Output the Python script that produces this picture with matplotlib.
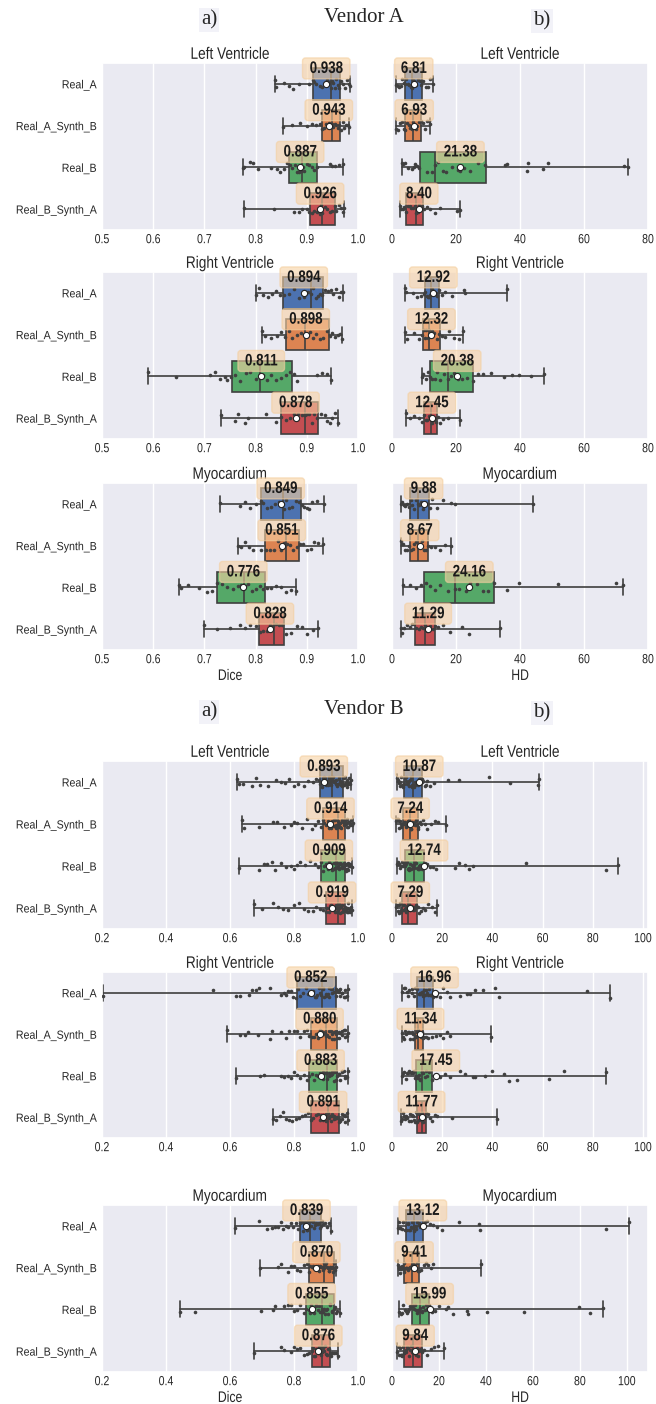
import numpy as np
import pandas as pd
import matplotlib.pyplot as plt
import seaborn as sns
from matplotlib.patheffects import AbstractPathEffect
from matplotlib.transforms import Affine2D

sns.set_theme(style='darkgrid')
plt.rcParams['font.family'] = ['Liberation Sans', 'DejaVu Sans']
np.random.seed(7)

groups = ['Real_A', 'Real_A_Synth_B', 'Real_B', 'Real_B_Synth_A']
palette = sns.color_palette('deep')[:4]

# box rows: (low whisker, q1, median, q3, high whisker)

# ---------------- Vendor A ----------------
a_lv_dice_mean = [0.938, 0.943, 0.887, 0.926]
a_lv_dice_box = [(0.838, 0.913, 0.947, 0.965, 0.984), (0.853, 0.929, 0.949, 0.965, 0.982),
                 (0.775, 0.866, 0.890, 0.920, 0.971), (0.778, 0.906, 0.929, 0.956, 0.972)]
a_lv_dice_pts = [
    [0.838, 0.839, 0.855, 0.866, 0.874, 0.885, 0.905, 0.912, 0.915, 0.918, 0.925, 0.93, 0.936, 0.94,
     0.944, 0.947, 0.95, 0.952, 0.955, 0.958, 0.96, 0.963, 0.966, 0.97, 0.975, 0.978, 0.982, 0.984],
    [0.853, 0.872, 0.886, 0.9, 0.91, 0.918, 0.925, 0.93, 0.933, 0.937, 0.94, 0.944, 0.947, 0.95,
     0.952, 0.955, 0.958, 0.96, 0.963, 0.966, 0.97, 0.973, 0.977, 0.98, 0.982],
    [0.775, 0.778, 0.79, 0.794, 0.805, 0.83, 0.842, 0.848, 0.855, 0.862, 0.868, 0.872, 0.876, 0.88,
     0.884, 0.888, 0.892, 0.895, 0.9, 0.905, 0.91, 0.915, 0.92, 0.945, 0.95, 0.955, 0.962, 0.971],
    [0.778, 0.835, 0.875, 0.885, 0.89, 0.9, 0.905, 0.91, 0.915, 0.92, 0.925, 0.928, 0.93, 0.935,
     0.94, 0.945, 0.95, 0.955, 0.958, 0.962, 0.966, 0.97, 0.972],
]
a_lv_hd_mean = [6.81, 6.93, 21.38, 8.40]
a_lv_hd_box = [(1.4, 4.0, 6.4, 9.5, 12.8), (1.4, 4.2, 6.6, 9.2, 12.0),
               (3.0, 8.7, 13.4, 29.3, 73.9), (2.4, 4.3, 7.6, 9.7, 21.2)]
a_lv_hd_pts = [
    [1.4, 1.8, 2.3, 2.8, 3.2, 3.6, 4.0, 4.4, 4.9, 5.3, 5.8, 6.2, 6.6, 7.0, 7.5, 8.0, 8.6, 9.2, 9.8,
     10.5, 11.3, 12.0, 12.8],
    [1.4, 1.9, 2.5, 3.0, 3.6, 4.2, 4.7, 5.2, 5.7, 6.2, 6.6, 7.0, 7.4, 7.9, 8.4, 9.0, 9.6, 10.3, 11.0,
     11.6, 12.0],
    [3.0, 3.5, 4.2, 5.0, 6.2, 6.8, 7.3, 7.7, 8.5, 10.8, 12.5, 13.4, 14.5, 15.8, 17.0, 18.6, 20.5,
     21.2, 22.5, 24.3, 27.0, 29.0, 35.3, 35.8, 42.3, 42.5, 47.1, 48.7, 72.4, 73.9],
    [2.4, 2.8, 3.3, 3.8, 4.3, 4.9, 5.5, 6.0, 6.6, 7.2, 7.6, 8.0, 8.5, 9.0, 9.5, 10.0, 11.0, 12.0,
     13.5, 15.0, 20.2, 21.2],
]

a_rv_dice_mean = [0.894, 0.898, 0.811, 0.878]
a_rv_dice_box = [(0.800, 0.853, 0.908, 0.931, 0.970), (0.813, 0.860, 0.896, 0.944, 0.968),
                 (0.590, 0.753, 0.808, 0.872, 0.948), (0.733, 0.849, 0.896, 0.922, 0.960)]
a_rv_dice_pts = [
    [0.8, 0.806, 0.815, 0.825, 0.832, 0.84, 0.848, 0.856, 0.865, 0.875, 0.885, 0.895, 0.902, 0.908,
     0.912, 0.918, 0.922, 0.926, 0.93, 0.935, 0.942, 0.948, 0.952, 0.958, 0.962, 0.966, 0.97],
    [0.813, 0.818, 0.83, 0.842, 0.85, 0.858, 0.865, 0.872, 0.88, 0.888, 0.895, 0.9, 0.906, 0.912,
     0.918, 0.925, 0.932, 0.94, 0.946, 0.95, 0.955, 0.96, 0.964, 0.968],
    [0.59, 0.645, 0.71, 0.72, 0.73, 0.74, 0.745, 0.752, 0.76, 0.77, 0.782, 0.79, 0.8, 0.808, 0.815,
     0.822, 0.83, 0.84, 0.85, 0.86, 0.868, 0.875, 0.88, 0.92, 0.93, 0.94, 0.948],
    [0.733, 0.76, 0.765, 0.78, 0.785, 0.82, 0.84, 0.85, 0.86, 0.868, 0.875, 0.882, 0.89, 0.896, 0.9,
     0.905, 0.91, 0.915, 0.92, 0.928, 0.935, 0.94, 0.945, 0.95, 0.955, 0.96],
]
a_rv_hd_mean = [12.92, 12.32, 20.38, 12.45]
a_rv_hd_box = [(4.0, 10.2, 12.1, 14.8, 35.9), (4.0, 9.8, 11.5, 15.1, 22.3),
               (9.3, 11.9, 17.4, 25.2, 47.4), (4.3, 9.9, 12.1, 14.1, 21.3)]
a_rv_hd_pts = [
    [4.0, 4.5, 6.5, 7.8, 9.0, 10.0, 10.4, 10.8, 11.2, 11.6, 12.0, 12.4, 12.8, 13.2, 13.7, 14.2, 14.8,
     15.5, 16.5, 18.7, 22.4, 22.8, 35.9],
    [4.0, 4.6, 7.0, 8.5, 9.5, 9.9, 10.3, 10.7, 11.1, 11.5, 12.0, 12.6, 13.2, 14.0, 14.8, 15.5, 16.5,
     17.8, 19.5, 21.0, 22.3],
    [9.3, 9.8, 10.5, 11.2, 12.0, 12.6, 13.3, 14.0, 15.0, 16.2, 17.4, 18.5, 19.5, 20.6, 22.0, 23.5,
     25.2, 27.0, 28.5, 31.0, 35.0, 37.5, 39.6, 43.5, 47.4],
    [4.3, 5.5, 7.0, 8.5, 9.5, 10.0, 10.5, 11.0, 11.5, 12.0, 12.4, 12.8, 13.3, 13.8, 14.3, 15.0, 16.0,
     17.5, 21.3],
]

a_myo_dice_mean = [0.849, 0.851, 0.776, 0.828]
a_myo_dice_box = [(0.731, 0.810, 0.854, 0.888, 0.933), (0.766, 0.819, 0.859, 0.885, 0.931),
                  (0.651, 0.725, 0.778, 0.819, 0.878), (0.700, 0.806, 0.835, 0.855, 0.922)]
a_myo_dice_pts = [
    [0.731, 0.77, 0.78, 0.79, 0.8, 0.81, 0.815, 0.822, 0.83, 0.838, 0.845, 0.85, 0.855, 0.86, 0.866,
     0.872, 0.878, 0.884, 0.89, 0.895, 0.9, 0.905, 0.91, 0.92, 0.933],
    [0.766, 0.772, 0.78, 0.788, 0.795, 0.81, 0.82, 0.828, 0.836, 0.844, 0.85, 0.856, 0.862, 0.868,
     0.874, 0.88, 0.886, 0.892, 0.9, 0.908, 0.915, 0.922, 0.931],
    [0.651, 0.655, 0.667, 0.69, 0.705, 0.715, 0.725, 0.735, 0.745, 0.755, 0.765, 0.772, 0.78, 0.786,
     0.792, 0.8, 0.808, 0.815, 0.822, 0.83, 0.84, 0.85, 0.86, 0.87, 0.878],
    [0.7, 0.725, 0.75, 0.77, 0.78, 0.79, 0.8, 0.808, 0.815, 0.822, 0.828, 0.834, 0.84, 0.846, 0.852,
     0.86, 0.87, 0.88, 0.89, 0.9, 0.912, 0.922],
]
a_myo_hd_mean = [9.88, 8.67, 24.16, 11.29]
a_myo_hd_box = [(2.7, 5.6, 8.0, 11.7, 44.1), (2.7, 5.6, 8.2, 11.2, 18.3),
                (3.4, 9.9, 19.6, 32.0, 72.2), (2.7, 7.3, 10.2, 13.4, 33.7)]
a_myo_hd_pts = [
    [2.7, 3.1, 3.6, 4.2, 4.8, 5.4, 5.9, 6.4, 6.9, 7.4, 8.0, 8.5, 9.0, 9.6, 10.2, 11.0, 11.8, 12.5,
     14.0, 16.0, 18.5, 19.6, 44.1],
    [2.7, 3.0, 3.5, 4.1, 4.7, 5.3, 5.9, 6.5, 7.0, 7.6, 8.2, 8.8, 9.4, 10.0, 10.7, 11.4, 12.3, 13.5,
     15.0, 16.5, 18.3],
    [3.4, 5.5, 7.5, 9.0, 10.5, 12.0, 13.5, 15.0, 17.5, 19.6, 21.0, 23.0, 24.5, 26.5, 28.5, 30.0,
     32.0, 36.0, 39.6, 52.0, 70.0, 72.2],
    [2.7, 3.2, 3.8, 4.6, 5.5, 6.3, 7.0, 7.6, 8.3, 9.0, 9.7, 10.2, 10.8, 11.4, 12.0, 12.7, 13.4,
     14.5, 16.0, 18.0, 22.0, 24.0, 33.7],
]

# ---------------- Vendor B ----------------
b_lv_dice_mean = [0.893, 0.914, 0.909, 0.919]
b_lv_dice_box = [(0.621, 0.880, 0.919, 0.952, 0.978), (0.638, 0.890, 0.936, 0.959, 0.984),
                 (0.627, 0.884, 0.932, 0.959, 0.980), (0.675, 0.899, 0.936, 0.959, 0.982)]
b_lv_dice_pts = [
    [0.621, 0.628, 0.64, 0.668, 0.682, 0.695, 0.72, 0.745, 0.76, 0.772, 0.785, 0.8, 0.812, 0.83,
     0.845, 0.86, 0.87, 0.878, 0.882, 0.886, 0.89, 0.894, 0.898, 0.902, 0.905, 0.908, 0.911, 0.914,
     0.917, 0.92, 0.922, 0.925, 0.928, 0.931, 0.934, 0.937, 0.94, 0.943, 0.946, 0.949, 0.952, 0.955,
     0.958, 0.961, 0.964, 0.967, 0.97, 0.973, 0.976, 0.978, 0.9, 0.91, 0.92, 0.93, 0.94, 0.95,
     0.96, 0.97, 0.935, 0.945, 0.955, 0.965, 0.925, 0.915, 0.905, 0.895],
    [0.638, 0.645, 0.69, 0.735, 0.748, 0.77, 0.79, 0.8, 0.81, 0.825, 0.84, 0.855, 0.865, 0.875,
     0.885, 0.89, 0.895, 0.9, 0.905, 0.91, 0.915, 0.92, 0.924, 0.928, 0.932, 0.936, 0.94, 0.943,
     0.946, 0.949, 0.952, 0.955, 0.958, 0.961, 0.964, 0.967, 0.97, 0.973, 0.976, 0.979, 0.982, 0.984,
     0.93, 0.94, 0.95, 0.96, 0.97, 0.975, 0.965, 0.955, 0.945, 0.935, 0.925, 0.915],
    [0.627, 0.69, 0.705, 0.715, 0.73, 0.74, 0.76, 0.775, 0.79, 0.8, 0.81, 0.82, 0.835, 0.85, 0.865,
     0.875, 0.884, 0.89, 0.895, 0.9, 0.905, 0.91, 0.915, 0.92, 0.924, 0.928, 0.932, 0.936, 0.94,
     0.943, 0.946, 0.949, 0.952, 0.955, 0.958, 0.961, 0.964, 0.967, 0.97, 0.973, 0.976, 0.98,
     0.93, 0.94, 0.95, 0.96, 0.97, 0.975, 0.965, 0.955, 0.945, 0.935, 0.925, 0.915],
    [0.675, 0.7, 0.735, 0.75, 0.765, 0.78, 0.8, 0.815, 0.83, 0.845, 0.86, 0.87, 0.88, 0.89, 0.899,
     0.904, 0.908, 0.912, 0.916, 0.92, 0.924, 0.928, 0.932, 0.936, 0.939, 0.942, 0.945, 0.948, 0.951,
     0.954, 0.957, 0.96, 0.963, 0.966, 0.969, 0.972, 0.975, 0.978, 0.982, 0.93, 0.94, 0.95, 0.96,
     0.97, 0.975, 0.965, 0.955, 0.945, 0.935, 0.925, 0.915],
]
b_lv_hd_mean = [10.87, 7.24, 12.74, 7.29]
b_lv_hd_box = [(1.8, 4.6, 8.3, 11.9, 58.4), (1.6, 4.2, 7.0, 10.3, 21.4),
               (1.8, 5.1, 8.6, 12.7, 89.9), (1.6, 4.1, 6.2, 10.0, 18.1)]
b_lv_hd_pts = [
    [1.8, 2.2, 2.6, 3.0, 3.4, 3.8, 4.2, 4.6, 5.0, 5.4, 5.8, 6.2, 6.6, 7.0, 7.4, 7.8, 8.3, 8.8, 9.3,
     9.8, 10.3, 10.8, 11.3, 11.9, 12.5, 13.2, 14.0, 15.0, 16.8, 22.2, 26.6, 38.8, 47.1, 58.0, 58.4,
     3.2, 4.4, 5.6, 6.8, 8.0, 9.0, 10.0, 11.0, 12.0, 13.5],
    [1.6, 2.0, 2.4, 2.8, 3.2, 3.6, 4.0, 4.4, 4.8, 5.2, 5.6, 6.0, 6.4, 6.8, 7.2, 7.6, 8.0, 8.5, 9.0,
     9.5, 10.0, 10.5, 11.0, 11.6, 12.3, 13.0, 14.0, 15.5, 17.0, 18.5, 21.4, 2.6, 3.4, 4.6, 5.4,
     6.6, 7.4, 8.2, 9.2, 10.2],
    [1.8, 2.3, 2.8, 3.3, 3.8, 4.3, 4.8, 5.3, 5.8, 6.3, 6.8, 7.3, 7.8, 8.3, 8.8, 9.3, 9.8, 10.3,
     10.8, 11.3, 11.9, 12.5, 13.2, 14.0, 15.0, 16.2, 17.6, 25.0, 26.5, 29.0, 30.5, 32.3, 53.5, 85.3,
     89.9, 2.6, 3.6, 4.6, 5.6, 6.6, 7.6, 8.6, 9.6, 10.6, 11.6],
    [1.6, 2.0, 2.4, 2.8, 3.2, 3.6, 4.0, 4.4, 4.8, 5.2, 5.6, 6.0, 6.4, 6.8, 7.2, 7.7, 8.2, 8.7, 9.2,
     9.7, 10.2, 10.8, 11.5, 12.3, 13.2, 14.5, 16.0, 17.2, 18.1, 2.6, 3.4, 4.6, 5.4, 6.6, 7.4, 8.4,
     9.4],
]

b_rv_dice_mean = [0.852, 0.880, 0.883, 0.891]
b_rv_dice_box = [(0.202, 0.810, 0.886, 0.931, 0.970), (0.590, 0.852, 0.900, 0.933, 0.970),
                 (0.619, 0.848, 0.902, 0.935, 0.970), (0.733, 0.852, 0.907, 0.940, 0.970)]
b_rv_dice_pts = [
    [0.202, 0.548, 0.62, 0.632, 0.66, 0.668, 0.68, 0.69, 0.725, 0.76, 0.768, 0.775, 0.782, 0.79,
     0.798, 0.805, 0.812, 0.82, 0.828, 0.836, 0.844, 0.852, 0.86, 0.866, 0.872, 0.878, 0.884, 0.89,
     0.895, 0.9, 0.905, 0.91, 0.915, 0.92, 0.925, 0.93, 0.935, 0.94, 0.945, 0.95, 0.955, 0.96,
     0.965, 0.97, 0.87, 0.88, 0.89, 0.9, 0.91, 0.92, 0.93, 0.94, 0.95, 0.96, 0.945, 0.935],
    [0.59, 0.631, 0.648, 0.657, 0.689, 0.725, 0.73, 0.76, 0.775, 0.785, 0.8, 0.81, 0.82, 0.83, 0.84,
     0.848, 0.855, 0.862, 0.869, 0.876, 0.883, 0.89, 0.896, 0.902, 0.908, 0.914, 0.92, 0.925, 0.93,
     0.935, 0.94, 0.945, 0.95, 0.955, 0.96, 0.965, 0.97, 0.88, 0.89, 0.9, 0.91, 0.92, 0.93, 0.94,
     0.95, 0.96, 0.915, 0.925],
    [0.619, 0.695, 0.705, 0.76, 0.77, 0.78, 0.79, 0.8, 0.81, 0.82, 0.83, 0.84, 0.848, 0.855, 0.862,
     0.869, 0.876, 0.883, 0.89, 0.896, 0.902, 0.908, 0.914, 0.92, 0.925, 0.93, 0.935, 0.94, 0.945,
     0.95, 0.955, 0.96, 0.965, 0.97, 0.88, 0.89, 0.9, 0.91, 0.92, 0.93, 0.94, 0.95, 0.96, 0.915,
     0.925],
    [0.733, 0.745, 0.755, 0.765, 0.775, 0.785, 0.795, 0.805, 0.815, 0.825, 0.835, 0.845, 0.852, 0.86,
     0.868, 0.876, 0.884, 0.892, 0.9, 0.907, 0.912, 0.918, 0.924, 0.93, 0.935, 0.94, 0.945, 0.95,
     0.955, 0.96, 0.965, 0.97, 0.88, 0.89, 0.9, 0.91, 0.92, 0.93, 0.94, 0.95, 0.96, 0.915, 0.925],
]
b_rv_hd_mean = [16.96, 11.34, 17.45, 11.77]
b_rv_hd_box = [(3.9, 10.0, 12.9, 16.4, 86.8), (3.9, 9.1, 10.5, 12.2, 39.6),
               (3.9, 9.6, 11.8, 15.8, 85.2), (3.5, 10.0, 12.0, 13.5, 41.9)]
b_rv_hd_pts = [
    [3.9, 4.8, 5.8, 6.8, 7.8, 8.6, 9.3, 10.0, 10.6, 11.2, 11.8, 12.4, 12.9, 13.5, 14.1, 14.8, 15.6,
     16.4, 17.5, 19.0, 20.5, 22.0, 23.3, 27.2, 29.8, 31.0, 33.0, 36.3, 40.9, 42.8, 77.6, 86.8,
     5.2, 6.4, 8.0, 9.6, 11.0, 12.2, 13.2, 14.4, 15.2, 16.0],
    [3.9, 4.6, 5.4, 6.2, 7.0, 7.8, 8.5, 9.1, 9.5, 9.9, 10.3, 10.7, 11.1, 11.5, 12.0, 12.6, 13.4,
     14.5, 16.0, 17.5, 19.0, 20.5, 22.0, 23.3, 39.6, 4.2, 5.0, 6.6, 8.2, 9.3, 10.1, 10.9, 11.8,
     12.4],
    [3.9, 4.8, 5.8, 6.8, 7.8, 8.7, 9.6, 10.2, 10.8, 11.3, 11.8, 12.4, 13.0, 13.8, 14.8, 15.8, 17.0,
     19.0, 21.0, 23.0, 27.2, 29.0, 32.4, 33.0, 37.0, 40.0, 44.5, 46.7, 50.0, 62.4, 68.6, 85.2,
     4.4, 5.4, 6.4, 7.4, 8.4, 9.2, 10.0, 11.0, 12.0, 13.4],
    [3.5, 4.3, 5.2, 6.1, 7.0, 7.9, 8.7, 9.4, 10.0, 10.5, 11.0, 11.5, 12.0, 12.5, 13.0, 13.5, 14.2,
     15.0, 16.0, 17.0, 18.0, 24.0, 41.9, 4.0, 4.8, 5.6, 6.6, 7.4, 8.2, 9.0, 9.8, 10.8, 11.8, 12.8],
]

b_myo_dice_mean = [0.839, 0.870, 0.855, 0.876]
b_myo_dice_box = [(0.616, 0.818, 0.850, 0.884, 0.916), (0.693, 0.847, 0.893, 0.925, 0.932),
                  (0.444, 0.838, 0.886, 0.925, 0.943), (0.675, 0.856, 0.886, 0.912, 0.936)]
b_myo_dice_pts = [
    [0.616, 0.69, 0.715, 0.73, 0.74, 0.75, 0.758, 0.766, 0.774, 0.782, 0.79, 0.798, 0.806, 0.812,
     0.818, 0.824, 0.83, 0.836, 0.842, 0.848, 0.854, 0.86, 0.866, 0.872, 0.878, 0.884, 0.89, 0.896,
     0.902, 0.908, 0.916, 0.82, 0.828, 0.835, 0.84, 0.845, 0.852, 0.858, 0.864, 0.87, 0.876, 0.882,
     0.888],
    [0.693, 0.75, 0.758, 0.78, 0.79, 0.8, 0.81, 0.82, 0.83, 0.84, 0.847, 0.855, 0.862, 0.87, 0.877,
     0.884, 0.89, 0.895, 0.9, 0.905, 0.91, 0.915, 0.92, 0.925, 0.928, 0.932, 0.85, 0.86, 0.868,
     0.875, 0.882, 0.888, 0.893, 0.898, 0.903, 0.908, 0.913, 0.918, 0.922],
    [0.444, 0.49, 0.697, 0.735, 0.74, 0.77, 0.78, 0.79, 0.8, 0.81, 0.82, 0.83, 0.838, 0.846, 0.854,
     0.862, 0.87, 0.878, 0.886, 0.893, 0.9, 0.907, 0.914, 0.92, 0.925, 0.93, 0.935, 0.943, 0.85,
     0.86, 0.868, 0.875, 0.882, 0.89, 0.897, 0.904, 0.911, 0.918, 0.928],
    [0.675, 0.76, 0.77, 0.79, 0.8, 0.81, 0.82, 0.83, 0.84, 0.848, 0.856, 0.862, 0.868, 0.874, 0.88,
     0.886, 0.892, 0.898, 0.904, 0.91, 0.915, 0.92, 0.925, 0.93, 0.936, 0.858, 0.865, 0.871, 0.877,
     0.883, 0.889, 0.895, 0.901, 0.907, 0.913, 0.918],
]
b_myo_hd_mean = [13.12, 9.41, 15.99, 9.84]
b_myo_hd_box = [(2.4, 6.0, 9.5, 13.1, 101.1), (2.4, 5.3, 8.4, 11.6, 37.9),
                (3.0, 8.5, 11.9, 15.8, 89.8), (2.3, 5.3, 9.1, 12.9, 22.3)]
b_myo_hd_pts = [
    [2.4, 3.0, 3.6, 4.2, 4.8, 5.4, 6.0, 6.6, 7.2, 7.8, 8.4, 9.0, 9.5, 10.1, 10.7, 11.3, 11.9, 12.5,
     13.1, 14.0, 15.0, 16.2, 17.5, 19.0, 21.2, 28.7, 37.1, 37.6, 91.0, 101.1, 3.4, 4.6, 5.8, 7.0,
     8.2, 9.2, 10.4, 11.6, 12.8],
    [2.4, 2.9, 3.4, 3.9, 4.4, 4.9, 5.3, 5.8, 6.3, 6.8, 7.3, 7.8, 8.4, 9.0, 9.6, 10.2, 10.9, 11.6,
     12.5, 13.5, 14.5, 15.5, 16.5, 17.5, 37.9, 3.2, 4.2, 5.0, 6.0, 7.0, 8.0, 8.8, 9.8, 10.6],
    [3.0, 3.8, 4.6, 5.4, 6.2, 7.0, 7.8, 8.5, 9.2, 9.9, 10.6, 11.2, 11.9, 12.6, 13.3, 14.0, 14.8,
     15.8, 17.0, 18.5, 20.0, 23.0, 24.0, 26.0, 31.8, 32.5, 40.3, 56.0, 79.7, 84.1, 89.8, 4.2, 5.8,
     7.4, 8.8, 10.2, 11.5, 12.9, 14.4, 15.4],
    [2.3, 2.8, 3.3, 3.8, 4.3, 4.8, 5.3, 5.8, 6.4, 7.0, 7.6, 8.2, 8.8, 9.1, 9.7, 10.3, 10.9, 11.5,
     12.2, 12.9, 13.8, 15.0, 16.5, 18.0, 19.5, 22.3, 3.0, 4.0, 5.0, 6.0, 7.2, 8.4, 9.4, 10.6, 11.8],
]

W, H = 656, 1404
fig = plt.figure(figsize=(W / 100, H / 100), dpi=100)
GRAY = '#3f3f3f'


class Narrow(AbstractPathEffect):
    """Squeeze glyph outlines horizontally, keeping the aligned edge in place."""

    def __init__(self, sx=0.8, anchor='center'):
        super().__init__()
        self.sx = sx
        self.anchor = anchor

    def draw_path(self, renderer, gc, tpath, affine, rgbFace=None):
        ext = tpath.get_extents()
        cx = {'left': ext.x0, 'center': (ext.x0 + ext.x1) / 2, 'right': ext.x1}[self.anchor]
        squeeze = Affine2D().translate(-cx, 0).scale(self.sx, 1).translate(cx, 0)
        renderer.draw_path(gc, tpath, squeeze + affine, rgbFace)


def add_ax(x0, x1, y0, y1):
    # pixel box, measured from the top-left corner
    return fig.add_axes([x0 / W, 1 - y1 / H, (x1 - x0) / W, (y1 - y0) / H])


def draw_panel(ax, means, box, pts, xlim, xticks, tickfmt, title, fmt, left=True, xlabel=None):
    df = pd.DataFrame({'val': [v for p in pts for v in p],
                       'grp': [g for g, p in zip(groups, pts) for _ in p]})
    sns.stripplot(data=df, x='val', y='grp', order=groups, color='.25', size=2.6,
                  jitter=0.12, ax=ax, zorder=3)
    stats = [dict(whislo=b[0], q1=b[1], med=b[2], q3=b[3], whishi=b[4], mean=m, fliers=[])
             for b, m in zip(box, means)]
    bp = ax.bxp(stats, positions=range(4), widths=0.76, orientation='horizontal',
                patch_artist=True, showmeans=True, manage_ticks=False, zorder=2,
                boxprops=dict(edgecolor=GRAY, linewidth=1.2),
                whiskerprops=dict(color=GRAY, linewidth=1.2),
                capprops=dict(color=GRAY, linewidth=1.2),
                medianprops=dict(color=GRAY, linewidth=1.2),
                meanprops=dict(marker='o', markerfacecolor='white', markeredgecolor='#222222',
                               markersize=4.5, markeredgewidth=0.8))
    for patch, c in zip(bp['boxes'], palette):
        patch.set_facecolor(c)
    for m in bp['means']:
        m.set_zorder(4)
    for i, m in enumerate(means):
        ax.text(m, i - 0.37, fmt.format(m), ha='center', va='center', fontsize=12,
                fontweight='bold', color='#1a1a1a', zorder=5,
                path_effects=[Narrow(0.8)],
                bbox=dict(boxstyle='round,pad=0.18', facecolor='#f8d2a4', edgecolor='#f4cfa0',
                          alpha=0.6))
    ax.set_xlim(*xlim)
    ax.set_ylim(3.5, -0.5)
    ax.set_xticks(xticks)
    for t in ax.set_xticklabels([tickfmt.format(t) for t in xticks]):
        t.set_path_effects([Narrow(0.8)])
    ax.grid(axis='y', visible=False)
    ax.grid(axis='x', color='white', linewidth=1.0)
    ax.set_ylabel('')
    ax.set_xlabel(xlabel or '', fontsize=11, labelpad=2)
    ax.xaxis.label.set_path_effects([Narrow(0.8)])
    ax.set_title(title, fontsize=12, pad=3).set_path_effects([Narrow(0.82)])
    ax.tick_params(axis='x', labelsize=9.5, pad=3, length=0)
    ax.tick_params(axis='y', labelsize=8.5, pad=4, length=0)
    if left:
        for t in ax.get_yticklabels():
            t.set_path_effects([Narrow(0.9, 'right')])
    else:
        ax.set_yticklabels([])


cols = [(102, 358), (392, 648)]
titles = ['Left Ventricle', 'Right Ventricle', 'Myocardium']

a_rows = [(63, 230), (272, 439), (483, 650)]
a_panels = [
    (a_lv_dice_mean, a_lv_dice_box, a_lv_dice_pts, a_lv_hd_mean, a_lv_hd_box, a_lv_hd_pts),
    (a_rv_dice_mean, a_rv_dice_box, a_rv_dice_pts, a_rv_hd_mean, a_rv_hd_box, a_rv_hd_pts),
    (a_myo_dice_mean, a_myo_dice_box, a_myo_dice_pts, a_myo_hd_mean, a_myo_hd_box, a_myo_hd_pts),
]
b_rows = [(761, 929), (972, 1138), (1205, 1372)]
b_panels = [
    (b_lv_dice_mean, b_lv_dice_box, b_lv_dice_pts, b_lv_hd_mean, b_lv_hd_box, b_lv_hd_pts),
    (b_rv_dice_mean, b_rv_dice_box, b_rv_dice_pts, b_rv_hd_mean, b_rv_hd_box, b_rv_hd_pts),
    (b_myo_dice_mean, b_myo_dice_box, b_myo_dice_pts, b_myo_hd_mean, b_myo_hd_box, b_myo_hd_pts),
]

dice_a = dict(xlim=(0.5, 1.0), xticks=[0.5, 0.6, 0.7, 0.8, 0.9, 1.0])
dice_b = dict(xlim=(0.2, 1.0), xticks=[0.2, 0.4, 0.6, 0.8, 1.0])
hd_a = [dict(xlim=(0, 80), xticks=[0, 20, 40, 60, 80])] * 3
hd_b = [dict(xlim=(0, 102), xticks=[0, 20, 40, 60, 80, 100])] * 2 + \
       [dict(xlim=(0, 109), xticks=[0, 20, 40, 60, 80, 100])]

for rows, panels, dice, hds in [(a_rows, a_panels, dice_a, hd_a), (b_rows, b_panels, dice_b, hd_b)]:
    for r, ((y0, y1), p, title) in enumerate(zip(rows, panels, titles)):
        last = r == 2
        ax = add_ax(cols[0][0], cols[0][1], y0, y1)
        draw_panel(ax, p[0], p[1], p[2], dice['xlim'], dice['xticks'], '{:.1f}', title, '{:.3f}',
                   xlabel='Dice' if last else None)
        ax = add_ax(cols[1][0], cols[1][1], y0, y1)
        draw_panel(ax, p[3], p[4], p[5], hds[r]['xlim'], hds[r]['xticks'], '{:g}', title, '{:.2f}',
                   left=False, xlabel='HD' if last else None)

# panel headers
serif = ['Liberation Serif', 'DejaVu Serif']
for y, name in [(18, 'Vendor A'), (710, 'Vendor B')]:
    fig.text(209 / W, 1 - (y + 2) / H, 'a)', family=serif, fontsize=15, ha='center', va='center',
             bbox=dict(facecolor='#f2f2f8', edgecolor='none', pad=1.5))
    fig.text(364 / W, 1 - y / H, name, family=serif, fontsize=15, ha='center', va='center')
    fig.text(542 / W, 1 - (y + 3) / H, 'b)', family=serif, fontsize=15, ha='center', va='center',
             bbox=dict(facecolor='#f2f2f8', edgecolor='none', pad=1.5))

fig.savefig('out.png', dpi=100)
